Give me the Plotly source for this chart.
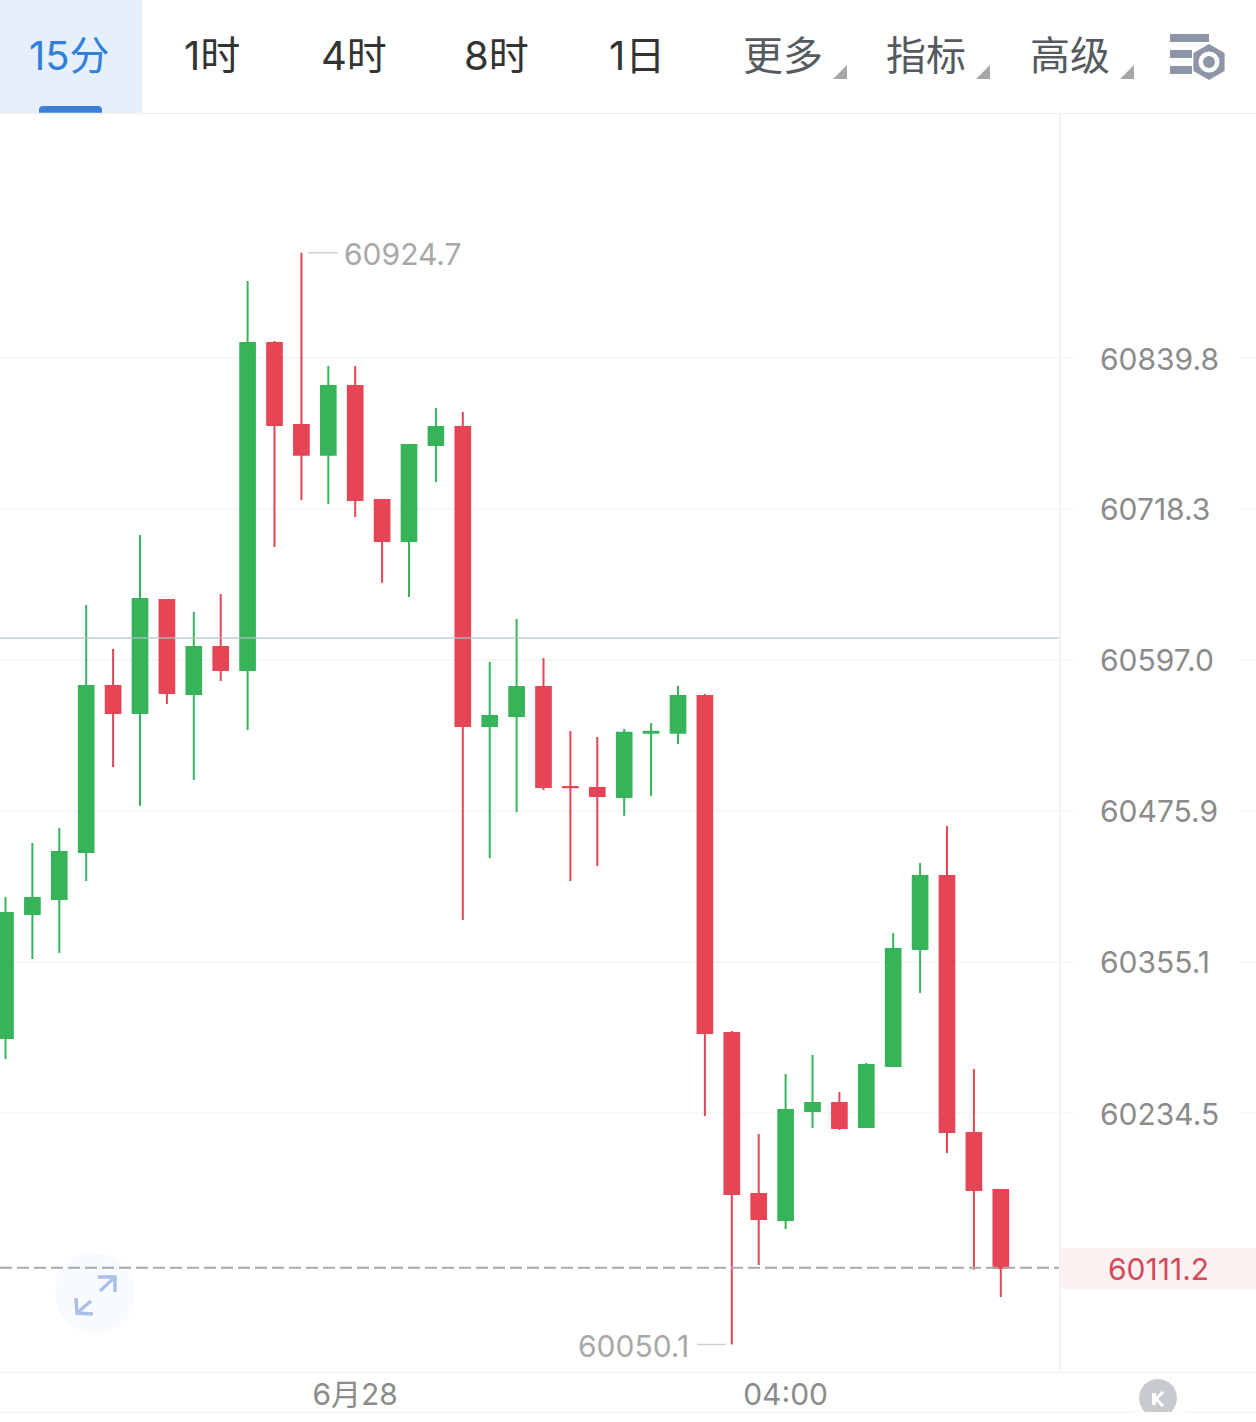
import math
import pandas as pd
import plotly.graph_objects as go

W, H = 1256, 1422

# 15-minute candles, oldest first
session_start = "2024-06-27 20:45"
open_price = [60294.4, 60393.5, 60405.5, 60443.1, 60576.1, 60554.5, 60645.2, 60569.7, 60607.4, 60589.0,
              60851.9, 60785.9, 60761.8, 60817.3, 60725.5, 60692.6, 60769.8, 60784.3, 60544.1, 60552.1,
              60575.3, 60495.1, 60494.3, 60487.1, 60538.5, 60538.5, 60568.1, 60298.4, 60170.0, 60149.3,
              60236.1, 60242.5, 60223.4, 60272.0, 60365.5, 60423.9, 60218.6, 60173.2]
high_price = [60407.1, 60450.3, 60462.3, 60641.2, 60605.8, 60697.4, 60645.2, 60635.6, 60650.0, 60901.9,
              60853.5, 60924.7, 60833.4, 60833.4, 60725.5, 60769.8, 60799.6, 60796.4, 60595.4, 60629.9,
              60598.6, 60540.1, 60535.2, 60541.7, 60546.5, 60576.1, 60569.7, 60300.0, 60217.8, 60265.6,
              60280.8, 60251.3, 60274.4, 60378.3, 60434.3, 60463.9, 60269.6, 60173.2]
low_price = [60277.6, 60357.5, 60362.3, 60419.9, 60511.2, 60479.9, 60561.7, 60500.8, 60580.2, 60540.9,
             60687.8, 60725.5, 60722.3, 60711.9, 60658.9, 60647.6, 60740.0, 60388.7, 60438.3, 60475.1,
             60492.7, 60419.9, 60431.9, 60471.9, 60487.9, 60529.6, 60232.1, 60050.1, 60113.4, 60142.1,
             60222.6, 60221.0, 60223.4, 60272.0, 60330.3, 60202.6, 60109.5, 60087.9]
close_price = [60394.3, 60406.3, 60443.1, 60576.1, 60554.5, 60646.0, 60570.5, 60607.4, 60589.0, 60851.9,
               60785.9, 60761.8, 60817.3, 60725.5, 60692.6, 60769.8, 60784.3, 60544.1, 60552.1, 60575.3,
               60495.1, 60494.9, 60487.9, 60538.5, 60539.3, 60568.1, 60298.4, 60170.0, 60150.1, 60236.9,
               60242.5, 60222.6, 60272.8, 60365.5, 60423.9, 60219.4, 60173.2, 60111.2]

# Axis labels
price_ticks = [60839.8, 60718.3, 60597.0, 60475.9, 60355.1, 60234.5]
time_ticks = ["2024-06-28 00:00", "2024-06-28 04:00"]
time_labels = ["6月28", "04:00"]
last_price = 60111.2
reference_price = 60614.7
session_high = 60924.7
session_low = 60050.1
tabs = ["15分", "1时", "4时", "8时", "1日"]
menus = ["更多", "指标", "高级"]

FONT = "Inter, 'Noto Sans CJK SC', sans-serif"
UP, DOWN = "#37b45a", "#e64555"
RED_TEXT = "#d34a5c"
GRID = "#f6f7f8"
AXIS_TEXT = "#8b8b8b"
MARK_TEXT = "#a8a8a8"


def px(x):
    return x / W


def py(y):
    return 1 - y / H


def path(points, close=False):
    d = "M" + " L".join(f"{px(x):.5f},{py(y):.5f}" for x, y in points)
    return d + (" Z" if close else "")


def path_shape(points, fill=None, stroke=None, width=0, close=True, layer="above"):
    return dict(type="path", xref="paper", yref="paper", path=path(points, close), layer=layer,
                fillcolor=fill if fill else "rgba(0,0,0,0)",
                line=dict(color=stroke if stroke else "rgba(0,0,0,0)", width=width))


def rect(x0, y0, x1, y1, fill, layer="above"):
    return dict(type="rect", xref="paper", yref="paper", x0=px(x0), x1=px(x1), y0=py(y0), y1=py(y1),
                fillcolor=fill, line=dict(width=0), layer=layer)


def circle(cx, cy, r, fill, layer="above"):
    return dict(type="circle", xref="paper", yref="paper", x0=px(cx - r), x1=px(cx + r),
                y0=py(cy + r), y1=py(cy - r), fillcolor=fill, line=dict(width=0), layer=layer)


def hline(x0, x1, y, color, width=2):
    return dict(type="line", xref="paper", yref="paper", x0=px(x0), x1=px(x1), y0=py(y), y1=py(y),
                line=dict(color=color, width=width))


def label(text, x, y, size, color, anchor="center"):
    return dict(text=text, x=px(x), y=py(y), xref="paper", yref="paper", showarrow=False,
                xanchor=anchor, yanchor="middle", font=dict(family=FONT, size=size, color=color))


times = pd.date_range(session_start, periods=len(close_price), freq="15min")

# The plot spans x 0..1060 and y 114..1372 in page pixels
PLOT_L, PLOT_R, PLOT_T, PLOT_B = 0, 1060, 114, 1372
CANDLE_X0, CANDLE_STEP = 5.5, 26.9
t0 = pd.Timestamp(session_start)
x_from = t0 + pd.Timedelta(minutes=15 * (PLOT_L - CANDLE_X0) / CANDLE_STEP)
x_to = t0 + pd.Timedelta(minutes=15 * (PLOT_R - CANDLE_X0) / CANDLE_STEP)

# Log price scale pinned by the top and bottom gridlines
ANCHOR_TOP, ANCHOR_BOTTOM = 358, 1113
log_per_px = math.log10(price_ticks[0] / price_ticks[-1]) / (ANCHOR_BOTTOM - ANCHOR_TOP)
y_top = math.log10(price_ticks[0]) + (ANCHOR_TOP - PLOT_T) * log_per_px
y_bottom = math.log10(price_ticks[0]) - (PLOT_B - ANCHOR_TOP) * log_per_px


def price_y(price):
    return ANCHOR_TOP + (math.log10(price_ticks[0]) - math.log10(price)) / log_per_px


fig = go.Figure()

fig.add_trace(go.Candlestick(
    x=times, open=open_price, high=high_price, low=low_price, close=close_price,
    increasing=dict(line=dict(color=UP, width=2), fillcolor=UP),
    decreasing=dict(line=dict(color=DOWN, width=2), fillcolor=DOWN),
    whiskerwidth=0, showlegend=False,
))

# Reference and last-price lines
fig.add_trace(go.Scatter(x=[x_from, x_to], y=[reference_price] * 2, mode="lines",
                         line=dict(color="rgba(178,194,206,0.8)", width=1.5), hoverinfo="skip", showlegend=False))
fig.add_trace(go.Scatter(x=[x_from, x_to], y=[last_price] * 2, mode="lines",
                         line=dict(color="#a9a9a9", width=2, dash="12px,5px"),
                         hoverinfo="skip", showlegend=False))

shapes = []
annotations = []

# Tab bar
shapes.append(rect(0, 0, 142, 113, "#e6f0fc"))
shapes.append(dict(type="path", xref="paper", yref="paper",
                   path=f"M{px(39):.5f},{py(113):.5f} L{px(39):.5f},{py(110):.5f} "
                        f"Q{px(39):.5f},{py(106):.5f} {px(43):.5f},{py(106):.5f} "
                        f"L{px(98):.5f},{py(106):.5f} Q{px(102):.5f},{py(106):.5f} {px(102):.5f},{py(110):.5f} "
                        f"L{px(102):.5f},{py(113):.5f} Z",
                   fillcolor="#3b80dc", line=dict(width=0)))
shapes.append(hline(0, W, 113.5, "#f1f2f4", 1.5))
tab_centres = [69, 212, 354, 496, 637]
for i, (name, cx) in enumerate(zip(tabs, tab_centres)):
    annotations.append(label(name, cx, 55, 40, "#2f7fdb" if i == 0 else "#333333"))
menu_centres = [783, 926, 1070]
for name, cx in zip(menus, menu_centres):
    annotations.append(label(name, cx, 55, 40, "#555a60"))
    tip = cx + 64
    shapes.append(path_shape([(tip, 65), (tip, 79), (tip - 14, 79)], fill="#a8a8a8"))

# Settings icon
ICON = "#8d95a6"
shapes.append(rect(1170, 34, 1209, 42, ICON))
shapes.append(rect(1170, 50, 1192, 58, ICON))
shapes.append(rect(1170, 66, 1192, 74, ICON))
hex_pts = [(1209 + 18 * math.sin(math.radians(a)), 62 - 18 * math.cos(math.radians(a))) for a in range(0, 360, 60)]
shapes.append(path_shape(hex_pts, fill=ICON))
shapes.append(circle(1209, 62, 10.5, "#ffffff"))
shapes.append(circle(1209, 62, 6, ICON))

# Panel separators
shapes.append(dict(type="line", xref="paper", yref="paper", x0=px(1060), x1=px(1060), y0=py(114), y1=py(1372),
                   line=dict(color="#f2f3f5", width=2)))
shapes.append(hline(0, W, 1372.5, "#f1f2f4", 1.5))
shapes.append(hline(0, W, 1412.5, "#f1f2f4", 1.5))

# Gridline stubs either side of the price labels
for tick in price_ticks:
    y = price_y(tick)
    shapes.append(hline(1060, 1075, y, GRID, 1.5))
    shapes.append(hline(1240, W, y, GRID, 1.5))

# Last-price tag
shapes.append(rect(1061, 1248, W, 1289, "#fdf1f1", layer="below"))
annotations.append(label(f"{last_price:.1f}", 1158, price_y(last_price) + 1.5, 30, RED_TEXT))

# High and low call-outs
high_y = price_y(session_high)
low_y = price_y(session_low)
shapes.append(hline(308, 338, high_y, "#cfcfcf", 1.5))
shapes.append(hline(697, 726, low_y, "#cfcfcf", 1.5))
annotations.append(label(f"{session_high:.1f}", 342, high_y + 1, 30, MARK_TEXT, anchor="left"))
annotations.append(label(f"{session_low:.1f}", 691, low_y + 1, 30, MARK_TEXT, anchor="right"))

# Expand button
shapes.append(circle(95, 1293, 40, "#f8fbfe", layer="below"))
ARROW = "#a9c0e8"
for pts in ([(100, 1291), (115, 1277)], [(98, 1277), (115, 1277), (115, 1292)],
            [(91, 1301), (77, 1313)], [(76, 1298), (77, 1313), (93, 1314)]):
    shapes.append(path_shape(pts, stroke=ARROW, width=3.5, close=False))

# Candle-mode button, cut off by the bottom rule
shapes.append(circle(1158, 1398, 19, "#c8cbce"))
shapes.append(rect(1130, 1412, 1190, 1422, "#ffffff"))
shapes.append(rect(1152, 1393, 1156, 1405, "#ffffff"))
shapes.append(path_shape([(1163, 1392), (1156, 1399), (1163, 1406)], stroke="#ffffff", width=3, close=False))

fig.update_layout(
    width=W, height=H, margin=dict(l=0, r=0, t=0, b=0), autosize=False,
    paper_bgcolor="#ffffff", plot_bgcolor="rgba(0,0,0,0)",
    font=dict(family=FONT), showlegend=False, boxgap=0.22,
    shapes=shapes, annotations=annotations,
    xaxis=dict(type="date", domain=[0, PLOT_R / W], range=[x_from, x_to], rangeslider=dict(visible=False),
               tickmode="array", tickvals=time_ticks, ticktext=time_labels, showgrid=False, zeroline=False,
               showline=False, ticks="", tickfont=dict(family=FONT, size=30, color=AXIS_TEXT), ticklabelstandoff=2),
    yaxis=dict(type="log", domain=[1 - PLOT_B / H, 1 - PLOT_T / H], range=[y_bottom, y_top], side="right",
               tickmode="array", tickvals=price_ticks, ticktext=[f"{v:.1f}" for v in price_ticks],
               showgrid=True, gridcolor=GRID, gridwidth=1.5, zeroline=False, showline=False, ticks="",
               tickfont=dict(family=FONT, size=30, color=AXIS_TEXT), ticklabelstandoff=39, ticklabelshift=1),
)

fig.write_html("out.html")
